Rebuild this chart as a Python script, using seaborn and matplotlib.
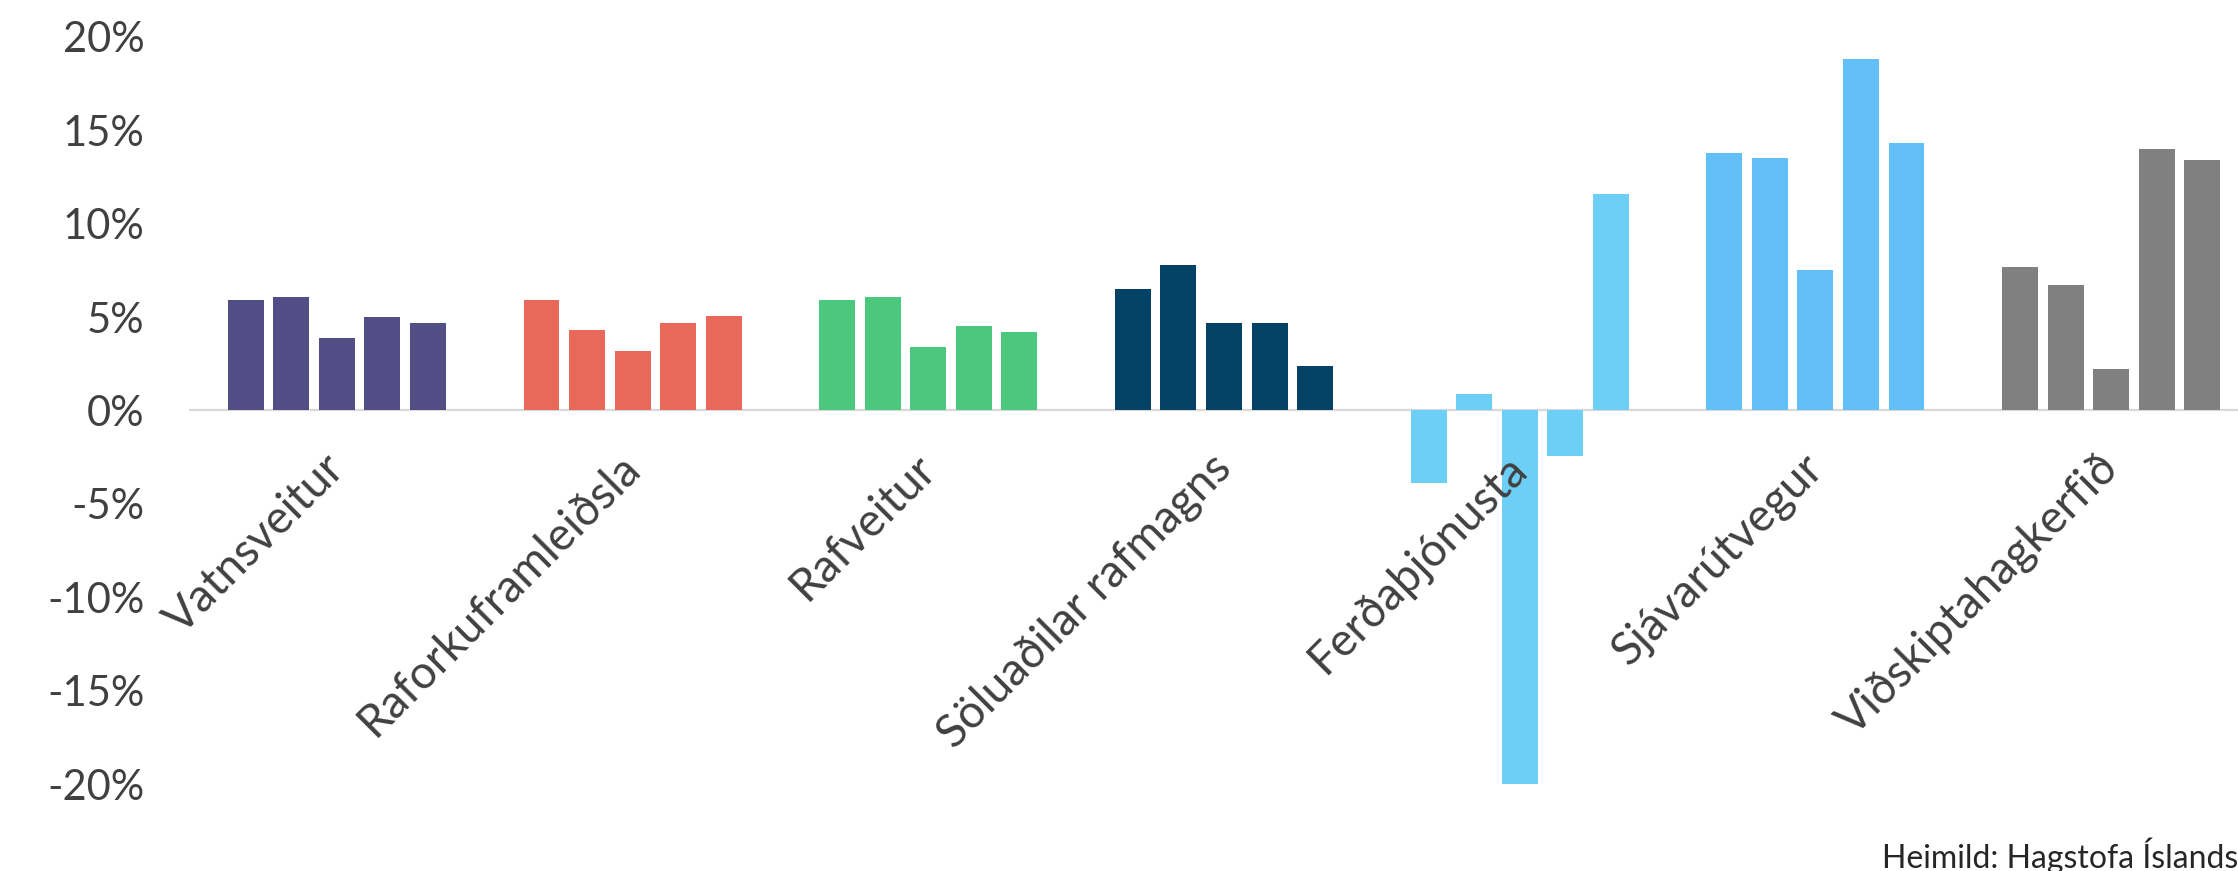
import pandas as pd
import numpy as np
import seaborn as sns
import matplotlib.pyplot as plt
from matplotlib.ticker import FuncFormatter
from matplotlib.transforms import ScaledTranslation

sectors = ['Vatnsveitur', 'Raforkuframleiðsla', 'Rafveitur', 'Söluaðilar rafmagns',
           'Ferðaþjónusta', 'Sjávarútvegur', 'Viðskiptahagkerfið']
periods = ['1', '2', '3', '4', '5']

vatnsveitur = [5.9, 6.1, 3.9, 5.0, 4.7]
raforkuframleidsla = [5.9, 4.3, 3.2, 4.7, 5.05]
rafveitur = [5.9, 6.1, 3.4, 4.5, 4.2]
soluadilar = [6.5, 7.8, 4.7, 4.7, 2.4]
ferdathjonusta = [-3.9, 0.9, -20.0, -2.45, 11.6]
sjavarutvegur = [13.8, 13.5, 7.5, 18.8, 14.3]
vidskiptahagkerfid = [7.7, 6.7, 2.2, 14.0, 13.4]

sector_colors = ['#524e85', '#e8695a', '#4bc77e', '#044266', '#6ecff6', '#62bff8', '#808080']

values = [vatnsveitur, raforkuframleidsla, rafveitur, soluadilar,
          ferdathjonusta, sjavarutvegur, vidskiptahagkerfid]
rows = []
for s, vals in zip(sectors, values):
    for p, v in zip(periods, vals):
        rows.append({'sector': s, 'period': p, 'value': v})
df = pd.DataFrame(rows)

sns.set_style('white')
plt.rcParams['font.family'] = ['Lato', 'DejaVu Sans']

fig = plt.figure(figsize=(22.38, 8.71), dpi=100)
ax = fig.add_axes([189 / 2238, 87 / 871, 2070 / 2238, 747 / 871])

sns.barplot(data=df, x='sector', y='value', hue='period', order=sectors,
            width=0.77, gap=0.21, legend=False, ax=ax, linewidth=0)

# one colour per sector, whatever the period
for bars in ax.containers:
    for bar, c in zip(bars, sector_colors):
        bar.set_facecolor(c)
        bar.set_edgecolor('none')

ax.set_axisbelow(False)
ax.axhline(0, color='#d9d9d9', lw=1.6, zorder=0)
ax.set_xlim(-0.5, 6.5)
ax.set_ylim(-20, 20)
ax.set_yticks(np.arange(-20, 21, 5))
ax.yaxis.set_major_formatter(FuncFormatter(lambda v, pos: f'{v:.0f}%'))
ax.spines['bottom'].set_position(('data', 0))
for sp in ax.spines.values():
    sp.set_visible(False)
ax.set_xlabel('')
ax.set_ylabel('')
ax.tick_params(axis='y', length=0, pad=32, labelsize=30, labelcolor='#404040')
ax.tick_params(axis='x', length=0, pad=26, labelsize=33, labelcolor='#404040')
ax.set_xticks(range(len(sectors)))
ax.set_xticklabels(sectors, rotation=45, ha='right', va='top', rotation_mode='anchor')
for lbl in ax.get_xticklabels():
    lbl.set_transform(lbl.get_transform() + ScaledTranslation(-0.14, 0, fig.dpi_scale_trans))

fig.text(1.0, 0.017, 'Heimild: Hagstofa Íslands', ha='right', va='center',
         fontsize=23, color='#262626')

fig.savefig('out.png', dpi=100)
